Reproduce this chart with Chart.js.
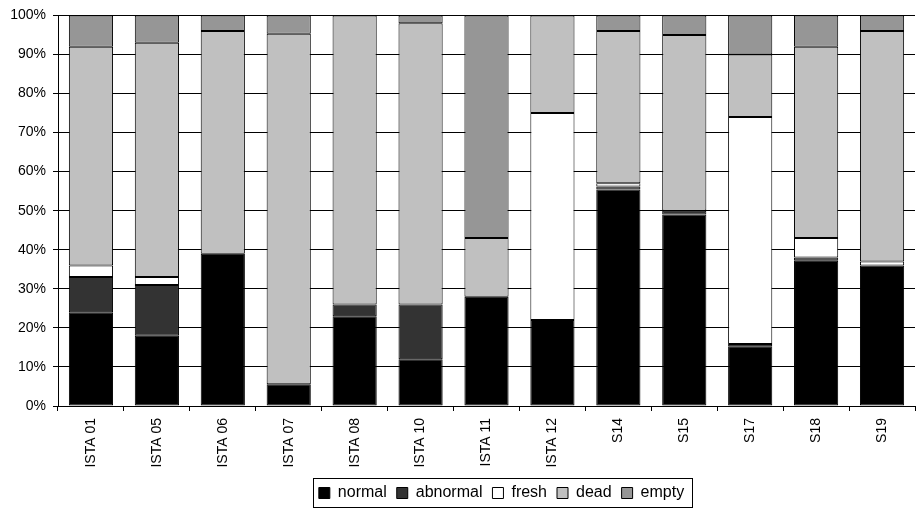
<!DOCTYPE html>
<html>
<head>
<meta charset="utf-8">
<script src="https://cdn.jsdelivr.net/npm/chart.js@4.4.0/dist/chart.umd.min.js"></script>
<style>
  body { margin: 0; background: #fff; }
  #wrap { width: 916px; height: 512px; }
</style>
</head>
<body>
<div id="wrap"><canvas id="chart" width="916" height="512"></canvas></div>
<script>
// --- Data ---
const categories = ["ISTA 01", "ISTA 05", "ISTA 06", "ISTA 07", "ISTA 08", "ISTA 10", "ISTA 11", "ISTA 12", "S14", "S15", "S17", "S18", "S19"];
const normal   = [24, 18, 39, 5.6, 23, 12, 28, 22, 55.4, 49, 15.3, 37.2, 36];
const abnormal = [9, 13, 0, 0, 3, 14, 0, 0, 0.8, 1, 0.6, 0.8, 0];
const fresh    = [3, 2, 0, 0, 0, 0, 0, 53, 0.8, 0, 58.1, 5, 1];
const dead     = [56, 60, 57, 89.7, 74, 72, 15, 25, 39, 45, 16, 49, 59];
const empty    = [8, 7, 4, 4.7, 0, 2, 57, 0, 4, 5, 10, 8, 4];
const yTicks = [0, 10, 20, 30, 40, 50, 60, 70, 80, 90, 100];

const FONT = "'Liberation Sans', Arial, sans-serif";

function series(label, data, color) {
  return {
    label: label,
    data: data,
    backgroundColor: color,
    borderColor: "#000",
    borderWidth: 1,
    borderSkipped: false,
    categoryPercentage: 1,
    barPercentage: 0.67
  };
}

// legend: shift it right a bit and draw a frame round it
const legendFrame = {
  id: "legendFrame",
  afterLayout(chart) {
    const l = chart.legend;
    l.left += 44;
    l.right += 44;
  },
  afterDraw(chart) {
    const boxes = chart.legend.legendHitBoxes;
    if (!boxes || !boxes.length) return;
    const left = Math.min(...boxes.map(b => b.left)) - 6;
    const right = Math.max(...boxes.map(b => b.left + b.width)) + 8;
    const top = boxes[0].top - 7;
    const bottom = boxes[0].top + boxes[0].height + 6;
    const ctx = chart.ctx;
    ctx.save();
    ctx.strokeStyle = "#000";
    ctx.lineWidth = 1;
    ctx.strokeRect(Math.round(left) + 0.5, Math.round(top) + 0.5, Math.round(right - left), Math.round(bottom - top));
    ctx.restore();
  }
};

const ctx = document.getElementById("chart").getContext("2d");
new Chart(ctx, {
  type: "bar",
  data: {
    labels: categories,
    datasets: [
      series("normal", normal, "#000000"),
      series("abnormal", abnormal, "#333333"),
      series("fresh", fresh, "#ffffff"),
      series("dead", dead, "#c0c0c0"),
      series("empty", empty, "#969696")
    ]
  },
  options: {
    responsive: false,
    animation: false,
    layout: { padding: { top: 14, right: 1, bottom: 1, left: 0 } },
    plugins: {
      tooltip: { enabled: false },
      legend: {
        position: "bottom",
        labels: {
          boxWidth: 11,
          boxHeight: 11,
          padding: 10,
          color: "#000",
          font: { family: FONT, size: 16 }
        }
      }
    },
    scales: {
      x: {
        stacked: true,
        afterFit: s => { s.height = 69; },
        grid: { drawOnChartArea: false, drawTicks: true, tickLength: 5, color: "#000" },
        border: { color: "#000" },
        ticks: {
          minRotation: 90,
          maxRotation: 90,
          padding: 7,
          color: "#000",
          font: { family: FONT, size: 14 }
        }
      },
      y: {
        stacked: true,
        min: 0,
        max: 100,
        afterFit: s => { s.width = 58; },
        afterBuildTicks: s => { s.ticks = yTicks.map(v => ({ value: v })); },
        grid: { color: "#000", tickLength: 5 },
        border: { color: "#000" },
        ticks: {
          padding: 7,
          color: "#000",
          font: { family: FONT, size: 14 },
          callback: v => v + "%"
        }
      }
    }
  },
  plugins: [legendFrame]
});
</script>
</body>
</html>
